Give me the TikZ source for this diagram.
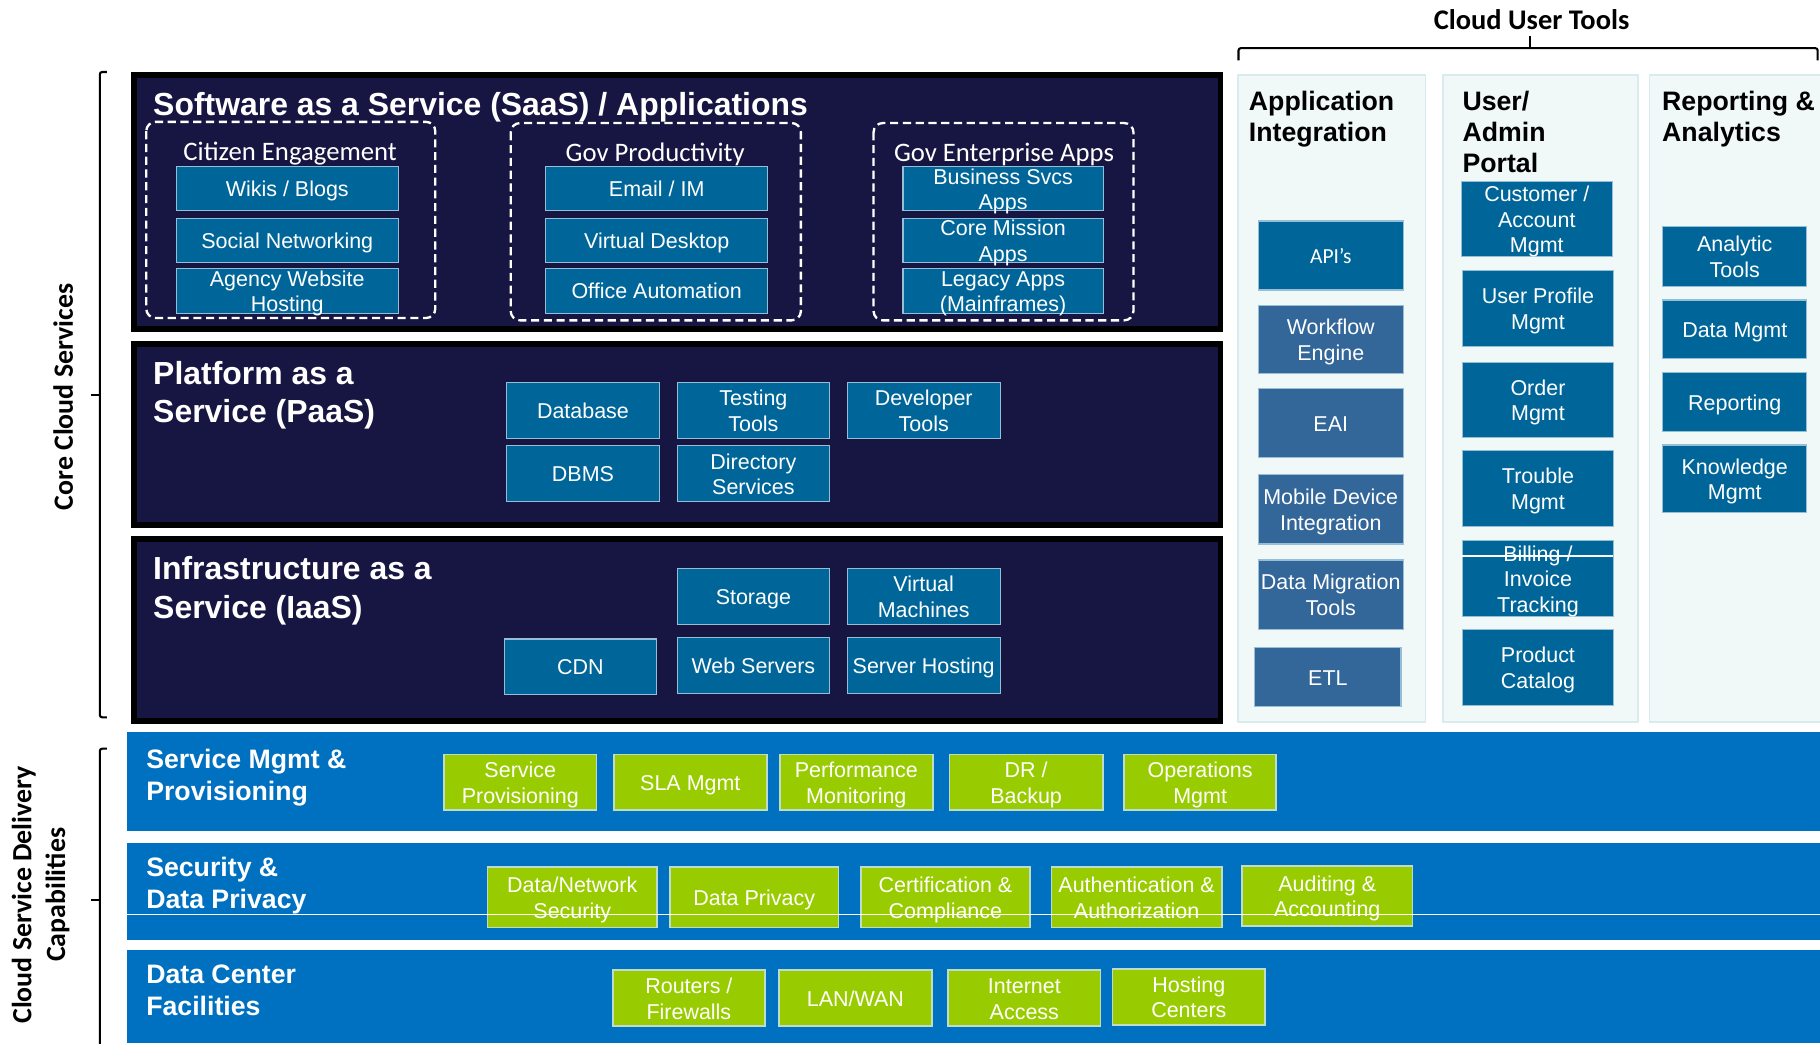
\documentclass[tikz,border=0pt]{standalone}
\usepackage{fontspec}
\setmainfont{Liberation Sans}
\newfontfamily\calib{Carlito}
\definecolor{navy}{RGB}{23,22,66}
\definecolor{boxblue}{RGB}{0,102,153}
\definecolor{steel}{RGB}{51,102,153}
\definecolor{boxedge}{RGB}{150,190,215}
\definecolor{bandblue}{RGB}{0,112,192}
\definecolor{leaf}{RGB}{153,204,0}
\definecolor{leafedge}{RGB}{190,220,200}
\definecolor{panelfill}{RGB}{240,248,248}
\definecolor{paneledge}{RGB}{216,236,240}
\tikzset{
  every node/.style={inner sep=0pt, outer sep=0pt},
  bx/.style={draw=boxedge, line width=1pt, fill=boxblue, text=white, align=center,
    font=\fontsize{18.5}{22}\selectfont},
  sx/.style={bx, fill=steel},
  gx/.style={bx, fill=leaf, draw=leafedge, line width=1.5pt},
  l1/.style={text height=14pt, text depth=0pt},
  l2/.style={text height=36pt, text depth=0pt},
  l3/.style={text height=58pt, text depth=0pt},
  ttl/.style={anchor=base west, text=white, font=\bfseries\fontsize{27.5}{30}\selectfont},
  btl/.style={anchor=base west, text=white, font=\bfseries\fontsize{23}{26}\selectfont},
  ctl/.style={anchor=base west, text=black, font=\bfseries\fontsize{23}{26}\selectfont},
  grp/.style={draw=white, line width=2pt, dash pattern=on 7pt off 4pt, rounded corners=8pt},
  glbl/.style={anchor=base, text=white, font=\calib\fontsize{23}{26}\selectfont},
  layer/.style={fill=navy, draw=black, line width=5pt},
  band/.style={fill=bandblue},
  panel/.style={fill=panelfill, draw=paneledge, line width=1.5pt},
  brace/.style={draw=black, line width=1.8pt, rounded corners=2pt},
  side/.style={rotate=90, font=\calib\bfseries\fontsize{24}{29}\selectfont, align=center},
  streak/.style={draw=white, line width=1pt}
}
\newcommand{\mybox}[7]{\node[#6, minimum width={#4-#2}, minimum height={#5-#3}] (#1) at ({(#2+#4)/2},{(#3+#5)/2}) {#7};}
\begin{document}
\begin{tikzpicture}[x=1pt,y=-1pt]
\useasboundingbox (0,0) rectangle (1568,899);

% ---------- braces and side labels ----------
\node[anchor=base, font=\calib\bfseries\fontsize{24.5}{26}\selectfont] (cut) at (1319.5,25) {Cloud User Tools};
\draw[brace] (1067,52) -- (1067,41.5) -- (1566,41.5) -- (1566,52);
\draw[line width=1.8pt] (1318,41.5) -- (1318,31);

\draw[brace] (92,62) -- (86,62) -- (86,618) -- (92,618);
\draw[line width=1.8pt] (86,340) -- (78,340);
\node[side] (ccs) at (54.5,342) {Core Cloud Services};

\draw[brace] (92,645) -- (86,645) -- (86,905);
\draw[line width=1.8pt] (86,775) -- (78,775);
\node[side] (csd) at (35,771) {Cloud Service Delivery\\Capabilities};

% ---------- core layers ----------
\draw[layer] (115.5,64.5) rectangle (1051.5,283.5);
\draw[layer] (115.5,296.5) rectangle (1051.5,452.5);
\draw[layer] (115.5,464.5) rectangle (1051.5,621.5);

\node[ttl] (saast) at (132,99.5) {Software as a Service (SaaS) / Applications};

\draw[grp] (126,105) rectangle (375,274);
\draw[grp] (440,106) rectangle (690,276);
\draw[grp] (752.6,106) rectangle (976.5,276);
\node[glbl] (cgl) at (250,138) {Citizen Engagement};
\node[glbl] (gpl) at (564.5,139) {Gov Productivity};
\node[glbl] (gel) at (865,139) {Gov Enterprise Apps};

\mybox{wiki}{152}{143.6}{343}{181.5}{bx,l1}{Wikis / Blogs}
\mybox{social}{152}{188}{343}{226}{bx,l1}{Social Networking}
\mybox{agency}{152}{231}{343}{270}{bx,l2}{Agency Website\\Hosting}
\mybox{email}{470}{143.6}{661.5}{181.5}{bx,l1}{Email / IM}
\mybox{vdesk}{470}{188}{661.5}{226}{bx,l1}{Virtual Desktop}
\mybox{office}{470}{231}{661.5}{270}{bx,l1}{Office Automation}
\mybox{bizsvc}{778}{143.6}{950.4}{181.5}{bx,l2}{Business Svcs\\Apps}
\mybox{coremis}{778}{188}{950.4}{226}{bx,l2}{Core Mission\\Apps}
\mybox{legacy}{778}{231}{950.4}{270}{bx,l2}{Legacy Apps\\(Mainframes)}

\node[ttl] (paas1) at (132,331) {Platform as a};
\node[ttl] (paas2) at (132,364) {Service (PaaS)};
\mybox{db}{436.5}{329.4}{568}{377.6}{bx,l1}{Database}
\mybox{testing}{583.5}{329.4}{714.6}{377.6}{bx,l2}{Testing\\Tools}
\mybox{devtools}{730}{329.4}{861.6}{377.6}{bx,l2}{Developer\\Tools}
\mybox{dbms}{436.5}{384}{568}{432.2}{bx,l1}{DBMS}
\mybox{dir}{583.5}{384}{714.6}{432.2}{bx,l2}{Directory\\Services}

\node[ttl] (iaas1) at (132,499) {Infrastructure as a};
\node[ttl] (iaas2) at (132,532.5) {Service (IaaS)};
\mybox{storage}{583.5}{489.6}{714.6}{537.9}{bx,l1}{Storage}
\mybox{vm}{730}{489.6}{861.6}{537.9}{bx,l2}{Virtual\\Machines}
\mybox{cdn}{434.5}{550.5}{565.5}{598.2}{bx,l1}{CDN}
\mybox{web}{583.5}{549}{714.6}{597.3}{bx,l1}{Web Servers}
\mybox{serverh}{730}{549}{861.6}{597.3}{bx,l1}{Server Hosting}

% ---------- cloud user tools ----------
\draw[panel] (1066.5,64.6) rectangle (1228,621.8);
\draw[panel] (1243,64.6) rectangle (1411,621.8);
\draw[panel] (1421,64.6) rectangle (1575,621.8);

\node[ctl] (ai1) at (1076,95) {Application};
\node[ctl] (ai2) at (1076,122) {Integration};
\node[ctl] (ua1) at (1260,95) {User/};
\node[ctl] (ua2) at (1260,122) {Admin};
\node[ctl] (ua3) at (1260,149) {Portal};
\node[ctl] (ra1) at (1432,95) {Reporting \&};
\node[ctl] (ra2) at (1432,122) {Analytics};

\mybox{api}{1084}{190.4}{1209}{249.8}{bx,l1}{\calib API’s}
\mybox{wf}{1084}{263}{1209}{322}{sx,l2}{Workflow\\Engine}
\mybox{eai}{1084}{334.5}{1209}{394.3}{sx,l1}{EAI}
\mybox{mdi}{1084}{409}{1209}{468.7}{sx,l2}{Mobile Device\\Integration}
\mybox{dmt}{1084}{482.5}{1209}{542}{sx,l2}{Data Migration\\Tools}
\mybox{etl}{1081}{557.5}{1207}{609}{sx,l1}{ETL}

\mybox{cust}{1259}{156.5}{1389}{221}{bx,l3}{Customer /\\Account\\Mgmt}
\mybox{upm}{1260}{233}{1390}{298.7}{bx,l2}{User Profile\\Mgmt}
\mybox{order}{1260}{312}{1390}{377}{bx,l2}{Order\\Mgmt}
\mybox{trouble}{1260}{388}{1390}{453.8}{bx,l2}{Trouble\\Mgmt}
\mybox{billing}{1260}{466}{1390}{531}{bx,l3}{Billing /\\Invoice\\Tracking}
\mybox{product}{1260}{542}{1390}{608}{bx,l2}{Product\\Catalog}
\coordinate (bl1) at (1259,479);
\coordinate (bl2) at (1390,479);
\draw[streak] (bl1) -- (bl2);

\mybox{analytic}{1432.5}{195}{1556.6}{247}{bx,l2}{Analytic\\Tools}
\mybox{datamgmt}{1432.5}{258.5}{1556.6}{309}{bx,l1}{Data Mgmt}
\mybox{reporting}{1432.5}{320.6}{1556.6}{372}{bx,l1}{Reporting}
\mybox{knowledge}{1432.5}{383.4}{1556.6}{441.7}{bx,l2}{Knowledge\\Mgmt}

% ---------- delivery capability bands ----------
\fill[band] (109,631) rectangle (1568,715.6);
\fill[band] (109,726.5) rectangle (1568,810);
\fill[band] (109,818.5) rectangle (1568,899);

\node[btl] (sm1) at (126,662) {Service Mgmt \&};
\node[btl] (sm2) at (126,690) {Provisioning};
\mybox{sprov}{382.5}{650}{514}{697.8}{gx,l2}{Service\\Provisioning}
\mybox{sla}{529}{650}{660.5}{697.8}{gx,l1}{SLA Mgmt}
\mybox{perf}{672}{650}{803.5}{697.8}{gx,l2}{Performance\\Monitoring}
\mybox{dr}{818}{650}{950}{697.8}{gx,l2}{DR /\\Backup}
\mybox{ops}{968.4}{650}{1099.5}{697.8}{gx,l2}{Operations\\Mgmt}

\node[btl] (sec1) at (126,755) {Security \&};
\node[btl] (sec2) at (126,782.5) {Data Privacy};
\mybox{dns}{420}{747}{566}{799}{gx,l2}{Data/Network\\Security}
\mybox{dpriv}{577}{747}{722.5}{799}{gx,l1}{Data Privacy}
\mybox{cert}{741.5}{747}{887.5}{799}{gx,l2}{Certification \&\\Compliance}
\mybox{auth}{906}{747}{1052.5}{799}{gx,l2}{Authentication \&\\Authorization}
\mybox{audit}{1070}{746}{1217}{798}{gx,l2}{Auditing \&\\Accounting}
\coordinate (sl1) at (109,788);
\coordinate (sl2) at (1568,788);
\draw[streak] (sl1) -- (sl2);

\node[btl] (dc1) at (126,847.5) {Data Center};
\node[btl] (dc2) at (126,875) {Facilities};
\mybox{routers}{528}{836}{659}{884}{gx,l2}{Routers /\\Firewalls}
\mybox{lan}{671}{836}{803}{884}{gx,l1}{LAN/WAN}
\mybox{inet}{817}{836}{948}{884}{gx,l2}{Internet\\Access}
\mybox{hosting}{958.5}{835}{1090}{883}{gx,l2}{Hosting\\Centers}
\end{tikzpicture}
\end{document}
